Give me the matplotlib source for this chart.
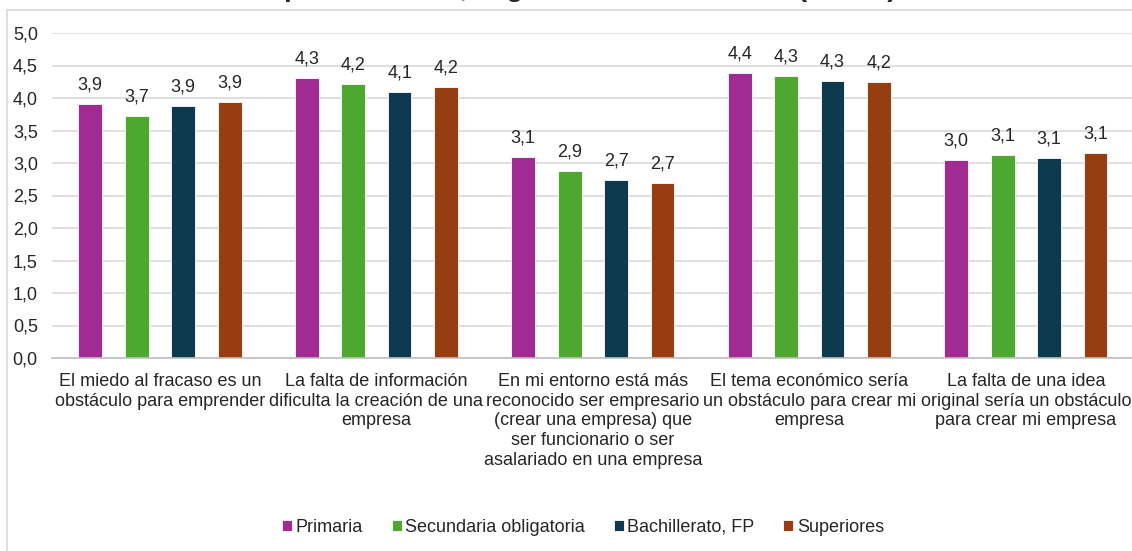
import matplotlib
matplotlib.use("Agg")
import matplotlib.pyplot as plt
from matplotlib.patches import Rectangle
import numpy as np

plt.rcParams['font.family'] = ['Liberation Sans', 'DejaVu Sans']

categories = [
    "El miedo al fracaso es un\nobstáculo para emprender",
    "La falta de información\ndificulta la creación de una\nempresa",
    "En mi entorno está más\nreconocido ser empresario\n(crear una empresa) que\nser funcionario o ser\nasalariado en una empresa",
    "El tema económico sería\nun obstáculo para crear mi\nempresa",
    "La falta de una idea\noriginal sería un obstáculo\npara crear mi empresa",
]
series_names = ["Primaria", "Secundaria obligatoria", "Bachillerato, FP", "Superiores"]
primaria = [3.91, 4.31, 3.09, 4.38, 3.05]
secundaria = [3.72, 4.22, 2.88, 4.34, 3.12]
bachillerato = [3.88, 4.09, 2.74, 4.26, 3.08]
superiores = [3.94, 4.17, 2.69, 4.25, 3.15]
series_values = [primaria, secundaria, bachillerato, superiores]
colors = ["#A02B93", "#4EA72E", "#0E3A4F", "#973D12"]
yticks = [0, 0.5, 1, 1.5, 2, 2.5, 3, 3.5, 4, 4.5, 5]
title = "emprendimiento, según nivel de estudios (media)"

W, H = 1132, 551
fig = plt.figure(figsize=(W / 100, H / 100), dpi=100)

# outer chart border
fig.patches.append(Rectangle((7 / W, -0.1), 1.2, 1 - 9.5 / H + 0.1, transform=fig.transFigure,
                             fill=False, edgecolor="#D9D9D9", linewidth=1.2))

left, right = 51.75, 1134.0
top, bottom = 33.0, 358.0
ax = fig.add_axes([left / W, 1 - bottom / H, (right - left) / W, (bottom - top) / H])

x = np.arange(len(categories))
offsets = [-0.322, -0.107, 0.107, 0.322]
width = 0.11
for vals, name, col, off in zip(series_values, series_names, colors, offsets):
    bars = ax.bar(x + off, vals, width, color=col, label=name, edgecolor="white",
                  linewidth=0.6, zorder=3)
    for b, v in zip(bars, vals):
        ax.annotate(f"{v:.1f}".replace(".", ","), (b.get_x() + b.get_width() / 2, v),
                    xytext=(0, 7.5), textcoords="offset points", ha="center", va="bottom",
                    fontsize=13, color="#262626")

ax.set_xlim(-0.5, len(categories) - 0.5)
ax.set_ylim(0, 5)
ax.set_yticks(yticks)
ax.set_yticklabels([f"{t:.1f}".replace(".", ",") for t in yticks], fontsize=13, color="#262626")
ax.set_xticks(x)
ax.set_xticklabels(categories, fontsize=13, color="#262626", linespacing=1.2)
ax.tick_params(axis="both", length=0)
ax.tick_params(axis="y", pad=10)
ax.tick_params(axis="x", pad=11)
ax.grid(axis="y", color="#D9D9D9", linewidth=1.2, zorder=0)
for s in ["top", "right", "left"]:
    ax.spines[s].set_visible(False)
ax.spines["bottom"].set_color("#BFBFBF")
ax.spines["bottom"].set_linewidth(1.2)
ax.spines["bottom"].set_zorder(4)

fig.text(570 / W, 1 + 3.5 / H, title, ha="center", va="baseline", fontsize=20,
         fontweight="bold", color="#262626")

fig.legend(loc="center", bbox_to_anchor=(583 / W, 1 - 527 / H), ncol=4, frameon=False,
           fontsize=13, handlelength=0.55, handleheight=0.55, handletextpad=0.2,
           columnspacing=1.6, labelcolor="#262626")

fig.savefig("out.png", dpi=100)
